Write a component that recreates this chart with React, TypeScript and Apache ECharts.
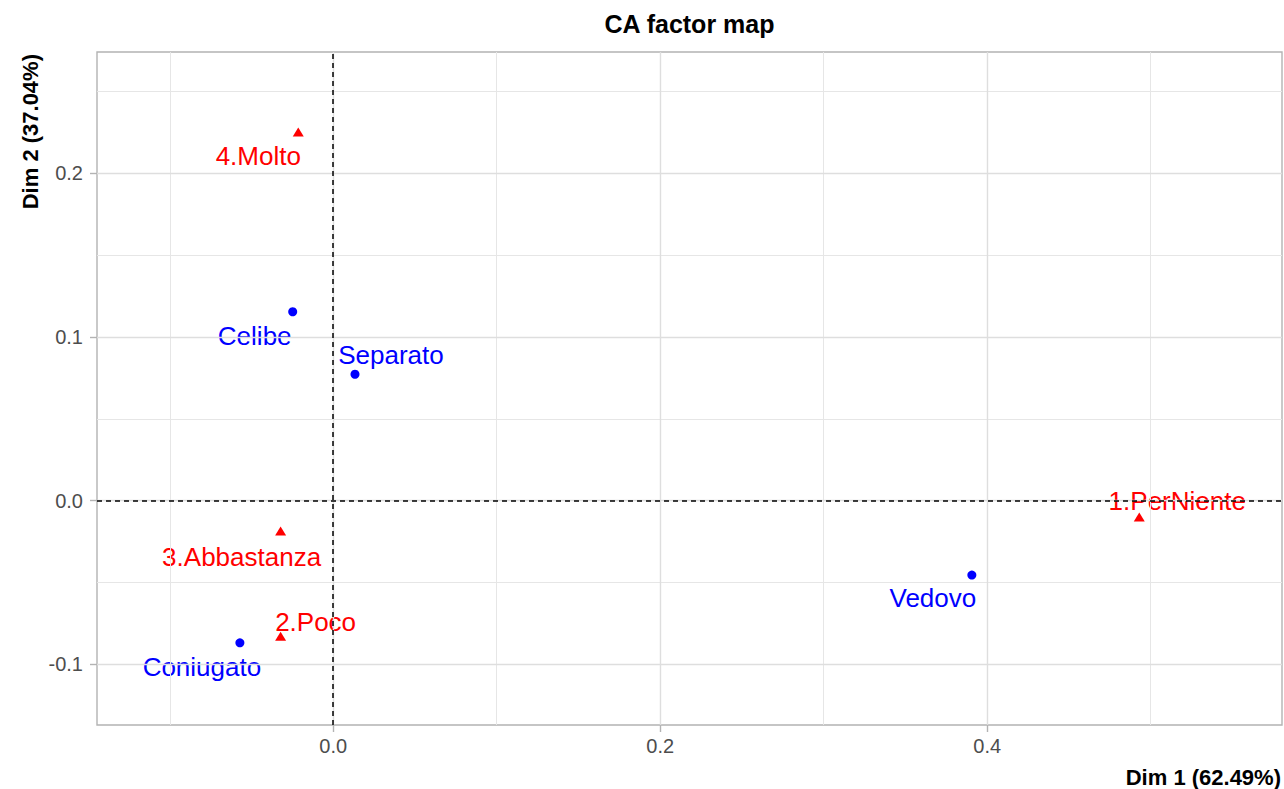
import React, { useEffect, useRef } from "react";
import * as echarts from "echarts";

// Row points (marital status)
const rowNames = ["Celibe", "Coniugato", "Separato", "Vedovo"];
const rowDim1 = [-0.0248, -0.0571, 0.0133, 0.3906];
const rowDim2 = [0.1154, -0.0869, 0.0772, -0.0455];

// Column points (satisfaction)
const colNames = ["1.PerNiente", "2.Poco", "3.Abbastanza", "4.Molto"];
const colDim1 = [0.493, -0.0322, -0.0322, -0.0214];
const colDim2 = [-0.01, -0.0828, -0.0186, 0.2252];

// Axis ticks
const xMajor = [0, 0.2, 0.4];
const xMinor = [-0.1, 0.1, 0.3, 0.5];
const yMajor = [-0.1, 0, 0.1, 0.2];
const yMinor = [-0.05, 0.05, 0.15, 0.25];

const xRange = [-0.1445, 0.5803];
const yRange = [-0.1371, 0.2741];

const titleText = "CA factor map";
const xTitle = "Dim 1 (62.49%)";
const yTitle = "Dim 2 (37.04%)";

// label nudges (pixels), layout only
const labelNudge: Record<string, [number, number]> = {
  Celibe: [-38, 24],
  Coniugato: [-38, 24],
  Separato: [36, -19],
  Vedovo: [-39, 23],
  "1.PerNiente": [38, -16],
  "2.Poco": [35, -14],
  "3.Abbastanza": [-39, 26],
  "4.Molto": [-40, 24],
};

const FONT = "'Liberation Sans', Arial, Helvetica, sans-serif";

export default function App() {
  const ref = useRef<HTMLDivElement>(null);
  useEffect(() => {
    if (!ref.current) return;
    const chart = echarts.init(ref.current, null, { renderer: "svg" });

    const mkPoints = (names: string[], xs: number[], ys: number[], color: string) =>
      names.map((n, i) => ({
        name: n,
        value: [xs[i], ys[i]],
        label: {
          show: true,
          formatter: n,
          position: "inside",
          offset: labelNudge[n],
          color,
          opacity: 1,
          fontSize: 26,
          fontFamily: FONT,
          align: "center",
          verticalAlign: "middle",
        },
      }));

    const gridLine = (axis: "xAxis" | "yAxis", v: number, major: boolean) => ({
      [axis]: v,
      lineStyle: { color: major ? "#dedede" : "#e6e6e6", width: major ? 1.4 : 1, type: "solid" },
    });

    chart.setOption({
      animation: false,
      backgroundColor: "#ffffff",
      textStyle: { fontFamily: FONT },
      grid: {
        left: 97,
        top: 52,
        right: 2,
        bottom: 64,
        show: true,
        borderColor: "#b3b3b3",
        borderWidth: 1.4,
        backgroundColor: "transparent",
      },
      xAxis: {
        type: "value",
        min: xRange[0],
        max: xRange[1],
        axisLine: { show: false, onZero: false },
        splitLine: { show: false },
        axisTick: { show: true, length: 7, customValues: xMajor, lineStyle: { color: "#b3b3b3", width: 1.4 } },
        axisLabel: {
          customValues: xMajor,
          formatter: (v: number) => v.toFixed(1),
          color: "#4d4d4d",
          fontSize: 20,
          fontFamily: FONT,
          margin: 11,
        },
      },
      yAxis: {
        type: "value",
        min: yRange[0],
        max: yRange[1],
        axisLine: { show: false, onZero: false },
        splitLine: { show: false },
        axisTick: { show: true, length: 7, customValues: yMajor, lineStyle: { color: "#b3b3b3", width: 1.4 } },
        axisLabel: {
          customValues: yMajor,
          formatter: (v: number) => v.toFixed(1),
          color: "#4d4d4d",
          fontSize: 20,
          fontFamily: FONT,
          margin: 14,
        },
      },
      graphic: [
        {
          type: "text",
          x: 689.5,
          y: 24,
          style: {
            text: titleText,
            fontSize: 25,
            fontWeight: "bold",
            fontFamily: FONT,
            fill: "#000",
            align: "center",
            verticalAlign: "middle",
          },
        },
        {
          type: "text",
          x: 1281,
          y: 777,
          style: {
            text: xTitle,
            fontSize: 22,
            fontWeight: "bold",
            fontFamily: FONT,
            fill: "#000",
            align: "right",
            verticalAlign: "middle",
          },
        },
        {
          type: "text",
          x: 30,
          y: 54,
          rotation: Math.PI / 2,
          style: {
            text: yTitle,
            fontSize: 22,
            fontWeight: "bold",
            fontFamily: FONT,
            fill: "#000",
            align: "right",
            verticalAlign: "middle",
          },
        },
      ],
      series: [
        {
          type: "scatter",
          data: [],
          z: 1,
          silent: true,
          markLine: {
            silent: true,
            symbol: "none",
            label: { show: false },
            animation: false,
            data: [
              ...xMinor.map((v) => gridLine("xAxis", v, false)),
              ...yMinor.map((v) => gridLine("yAxis", v, false)),
              ...xMajor.map((v) => gridLine("xAxis", v, true)),
              ...yMajor.map((v) => gridLine("yAxis", v, true)),
            ],
          },
        },
        {
          type: "scatter",
          data: [],
          z: 2,
          silent: true,
          markLine: {
            silent: true,
            symbol: "none",
            label: { show: false },
            animation: false,
            lineStyle: { color: "#000", width: 1.5, type: [5, 4] },
            data: [{ xAxis: 0 }, { yAxis: 0 }],
          },
        },
        {
          type: "scatter",
          name: "rows",
          z: 3,
          symbol: "circle",
          symbolSize: 9,
          itemStyle: { color: "#0000ff", opacity: 1 },
          data: mkPoints(rowNames, rowDim1, rowDim2, "#0000ff"),
        },
        {
          type: "scatter",
          name: "columns",
          z: 3,
          symbol: "triangle",
          symbolSize: [11, 9],
          itemStyle: { color: "#ff0000", opacity: 1 },
          data: mkPoints(colNames, colDim1, colDim2, "#ff0000"),
        },
      ],
    });
    return () => chart.dispose();
  }, []);
  return (
    <div
      ref={ref}
      style={{ position: "fixed", left: 0, top: 0, width: 1284, height: 789, background: "#fff" }}
    />
  );
}
